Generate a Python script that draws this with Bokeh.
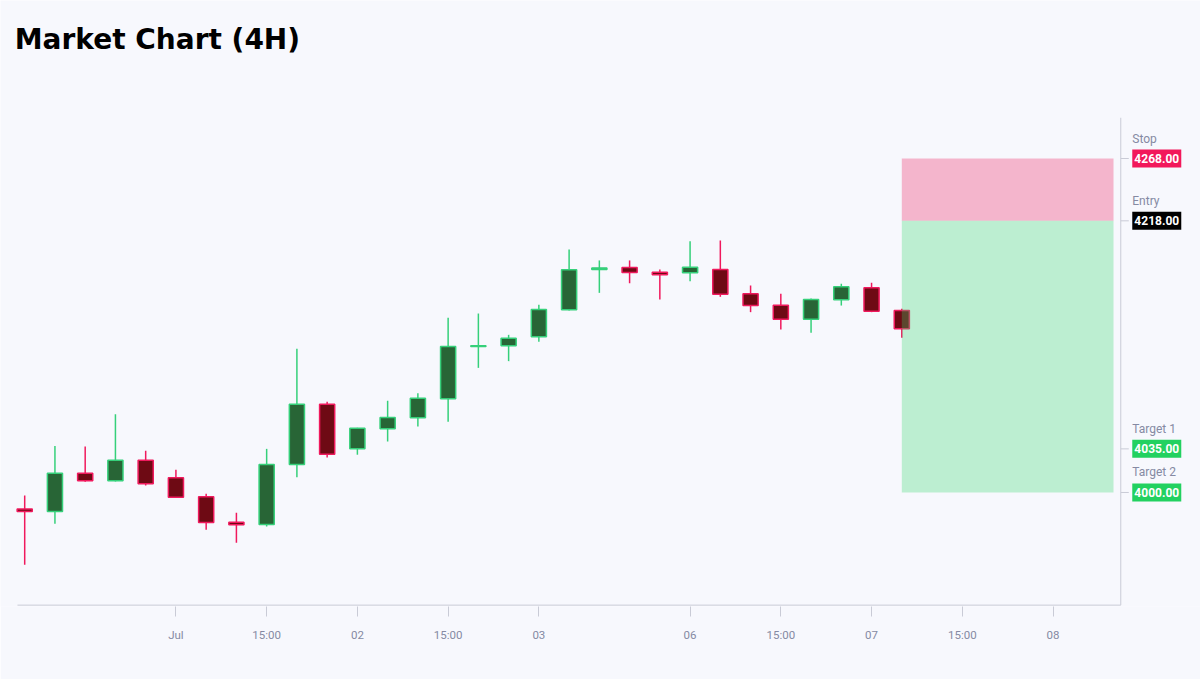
from bokeh.plotting import figure
from bokeh.models import ColumnDataSource, FixedTicker, Range1d
from bokeh.core.properties import value
from bokeh.embed import file_html
from bokeh.resources import INLINE

# ---- data (4H candles, ordinal index) ----
opens = [3986.8, 3984.8, 4015.5, 4009.4, 4025.9, 4011.8, 3996.6, 3976.2, 3974.3, 4022.5,
         4070.9, 4035.1, 4051.1, 4059.9, 4075.2, 4117.2, 4117.7, 4124.9, 4146.6, 4179.0,
         4180.5, 4176.8, 4176.3, 4178.9, 4159.4, 4150.3, 4139.1, 4154.6, 4164.3, 4146.0]
highs = [3997.6, 4037.2, 4036.9, 4062.8, 4033.5, 4018.2, 3999.0, 3983.7, 4035.0, 4115.3,
         4072.8, 4051.9, 4073.6, 4079.7, 4140.2, 4143.6, 4126.5, 4150.6, 4195.0, 4186.2,
         4186.2, 4178.9, 4201.6, 4202.2, 4166.1, 4159.4, 4155.7, 4167.5, 4168.3, 4147.4]
lows = [3942.0, 3974.9, 4008.6, 4008.8, 4005.6, 3995.5, 3970.1, 3959.6, 3972.7, 4012.3,
        4028.1, 4030.3, 4040.9, 4053.0, 4056.7, 4100.0, 4105.4, 4120.9, 4146.0, 4160.2,
        4167.9, 4154.9, 4169.5, 4157.0, 4144.7, 4130.8, 4128.1, 4150.0, 4144.7, 4124.1]
closes = [3984.8, 4015.5, 4009.4, 4025.9, 4007.0, 3996.2, 3976.0, 3974.1, 4022.5, 4070.9,
          4030.7, 4051.6, 4060.2, 4075.7, 4117.2, 4117.8, 4123.8, 4146.8, 4178.7, 4180.2,
          4176.5, 4174.7, 4180.8, 4159.1, 4150.0, 4139.1, 4154.9, 4165.1, 4145.5, 4131.4]

tick_positions = [5, 8, 11, 14, 17, 22, 25, 28, 31, 34]
tick_labels = ["Jul", "15:00", "02", "15:00", "03", "06", "15:00", "07", "15:00", "08"]

stop_price = 4268.0
entry_price = 4218.0
target1_price = 4035.0
target2_price = 4000.0
position_start = 29
position_end = 36

level_names = ["Stop", "Entry", "Target 1", "Target 2"]
level_prices = [stop_price, entry_price, target1_price, target2_price]
level_colors = ["#f2185b", "#000000", "#22d160", "#22d160"]

title_text = "Market Chart (4H)"

# ---- layout in data units (frame covers the whole canvas above the time axis) ----
X_MIN, X_MAX = -0.800, 38.876
Y_MIN, Y_MAX = 3908.5, 4394.8
PLOT_LEFT = -0.238                      # start of the time-scale line
PLOT_TOP = 4300.7                       # top of the price-scale line
AXIS_X = 36.24                          # price-scale line
AXIS_Y = 3909.6                         # time-scale line
TICK_LEN = 0.265
NAME_X = 36.62
TAG_X = 37.43
TITLE_X, TITLE_Y = -0.33, 4363.2

# ---- styling ----
BG = "#f7f8fd"
UP_LINE, UP_FILL = "#35d07a", "#286536"
DN_LINE, DN_FILL = "#f0195d", "#6e0a14"
AXIS_C = "#c9cbd6"
TEXT_C = "#858aa3"
FONT = "Roboto"

n = len(opens)
xs = list(range(n))
up = [c >= o for o, c in zip(opens, closes)]

src = ColumnDataSource(dict(
    x=xs,
    top=[max(o, c) for o, c in zip(opens, closes)],
    bottom=[min(o, c) for o, c in zip(opens, closes)],
    high=highs, low=lows,
    line=[UP_LINE if u else DN_LINE for u in up],
    fill=[UP_FILL if u else DN_FILL for u in up],
))

p = figure(width=1200, height=679, output_backend="svg", toolbar_location=None,
           x_range=Range1d(X_MIN, X_MAX), y_range=Range1d(Y_MIN, Y_MAX),
           background_fill_color=BG, border_fill_color=BG,
           min_border_left=0, min_border_right=0, min_border_top=0, min_border_bottom=73,
           outline_line_color=None)

p.grid.visible = False
p.yaxis.visible = False

# bottom (time) axis
xa = p.xaxis[0]
xa.ticker = FixedTicker(ticks=tick_positions)
xa.major_label_overrides = {t: l for t, l in zip(tick_positions, tick_labels)}
xa.minor_tick_line_color = None
xa.axis_line_color = None
xa.major_tick_line_color = AXIS_C
xa.major_tick_in = 0
xa.major_tick_out = 10
xa.major_label_standoff = 11
xa.major_label_text_font = FONT
xa.major_label_text_font_size = "11.5px"
xa.major_label_text_color = TEXT_C

# title
p.text(x=[TITLE_X], y=[TITLE_Y], text=[title_text], text_font=value("DejaVu Sans"),
       text_font_size="28px", text_font_style="bold", text_color="#000000",
       text_align="left", text_baseline="alphabetic")

# axis lines of the price scale / time scale
p.segment(x0=[PLOT_LEFT], x1=[AXIS_X], y0=[AXIS_Y], y1=[AXIS_Y], line_color=AXIS_C, line_width=1)
p.segment(x0=[AXIS_X], x1=[AXIS_X], y0=[AXIS_Y], y1=[PLOT_TOP], line_color=AXIS_C, line_width=1)
p.segment(x0=[AXIS_X] * 4, x1=[AXIS_X + TICK_LEN] * 4, y0=level_prices, y1=level_prices,
          line_color=AXIS_C, line_width=1)

# candles
p.segment(x0="x", x1="x", y0="low", y1="high", line_color="line", line_width=1.5, source=src)
p.vbar(x="x", width=0.5, top="top", bottom="bottom", fill_color="fill", line_color="line",
       line_width=1.5, source=src)

# position box (drawn over candles)
p.quad(left=[position_start], right=[position_end], bottom=[entry_price], top=[stop_price],
       fill_color="#f0195d", fill_alpha=0.3, line_color=None)
p.quad(left=[position_start], right=[position_end], bottom=[target2_price], top=[entry_price],
       fill_color="#36d76e", fill_alpha=0.3, line_color=None)

# level tags
tags = ColumnDataSource(dict(
    x=[TAG_X] * 4, nx=[NAME_X] * 4, y=level_prices, name=level_names,
    label=[f"{v:.2f}" for v in level_prices], color=level_colors,
))
p.rect(x="x", y="y", width=49, height=18, width_units="screen", height_units="screen",
       fill_color="color", line_color=None, source=tags)
p.text(x="x", y="y", text="label", text_font=value(FONT), text_font_size="12px",
       text_font_style="bold", text_color="#ffffff", text_align="center",
       text_baseline="middle", source=tags)
p.text(x="nx", y="y", text="name", text_font=value(FONT), text_font_size="12px",
       text_color=TEXT_C, text_align="left", text_baseline="middle", y_offset=-20,
       source=tags)

open("out.html", "w").write(file_html(p, INLINE))
